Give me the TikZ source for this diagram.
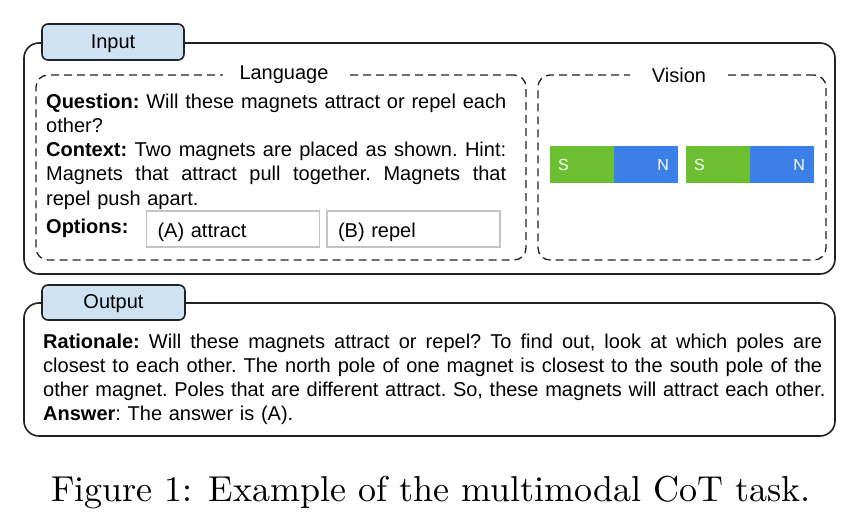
\documentclass[tikz,border=0pt]{standalone}
\usepackage{fontspec}
\setsansfont{Liberation Sans}
\newfontfamily\capfont{lmroman10-regular}[Extension=.otf]
\definecolor{tabblue}{HTML}{CFE2F3}
\definecolor{boxline}{HTML}{222222}
\definecolor{optgray}{HTML}{C4C4C4}
\definecolor{magS}{HTML}{6BBF30}
\definecolor{magN}{HTML}{3B80E8}
\newcommand\jline[1]{\leavevmode\hbox to\linewidth{\spaceskip=0.278em plus 1fil\relax #1}}
\begin{document}
\begin{tikzpicture}[x=1pt,y=-1pt,
  every node/.style={font=\sffamily\fontsize{20}{24.3}\selectfont},
  outerbox/.style={draw=boxline, line width=1.6pt, rounded corners=15pt, inner sep=0pt},
  tabbox/.style={draw=boxline, fill=tabblue, line width=1.6pt, rounded corners=6pt, inner sep=0pt, minimum height=36pt, text height=15pt, text depth=2.4pt},
  dashbox/.style={draw=boxline, line width=1.3pt, dash pattern=on 8pt off 5pt, rounded corners=12pt, inner sep=0pt, minimum height=185pt},
  dashlabel/.style={fill=white, inner xsep=17pt, inner ysep=0pt},
  optbox/.style={draw=optgray, line width=1.5pt, inner xsep=11pt, inner ysep=0pt, minimum height=36pt, text width=151pt, align=left, text height=16pt, text depth=0pt},
  maghalf/.style={inner sep=0pt, minimum width=64pt, minimum height=37pt},
  maglabel/.style={text=white, inner sep=0pt, font=\sffamily\fontsize{16}{16}\selectfont},
  bodytext/.style={inner sep=0pt, align=left, anchor=base west, execute at begin node=\frenchspacing}
]
\useasboundingbox (0,0) rectangle (863,512);
\fill[white] (0,0) rectangle (863,512);

% Input box
\node[outerbox, minimum width=811pt, minimum height=231pt] (inbox) at (429.5,158.5) {};
\node[tabbox, minimum width=142pt] (intab) at (113,42) {Input};

% Language box
\node[dashbox, minimum width=490pt] (langbox) at (281,167.5) {};
\node[dashlabel] (langlbl) at (284,75) {Language};
\node[bodytext, text width=460pt] (langtext) at (46,108) {%
\jline{\textbf{Question:} Will these magnets attract or repel each}\\
other?\\
\jline{\textbf{Context:} Two magnets are placed as shown. Hint:}\\
\jline{Magnets that attract pull together. Magnets that}\\
repel push apart.};
\node[bodytext] (optlbl) at (46,233) {\textbf{Options:}};
\node[optbox] (optA) at (233,229) {(A) attract};
\node[optbox] (optB) at (413.5,229) {(B) repel};

% Vision box
\node[dashbox, minimum width=288pt] (visbox) at (682,167.5) {};
\node[dashlabel, inner xsep=22pt] (vislbl) at (679,75) {Vision};
\node[maghalf, fill=magS] (s1) at (582,164.5) {};
\node[maghalf, fill=magN] (n1) at (646,164.5) {};
\node[maghalf, fill=magS] (s2) at (718,164.5) {};
\node[maghalf, fill=magN] (n2) at (782,164.5) {};
\node[maglabel, anchor=west] (s1l) at ([xshift=8pt]s1.west) {S};
\node[maglabel, anchor=east] (n1l) at ([xshift=-9pt]n1.east) {N};
\node[maglabel, anchor=west] (s2l) at ([xshift=8pt]s2.west) {S};
\node[maglabel, anchor=east] (n2l) at ([xshift=-9pt]n2.east) {N};

% Output box
\node[outerbox, minimum width=811pt, minimum height=133pt] (outbox) at (429.5,369.5) {};
\node[tabbox, minimum width=143pt, minimum height=35pt] (outtab) at (113.5,302.5) {Output};
\node[bodytext, text width=779pt] (outtext) at (43,348) {%
\jline{\textbf{Rationale:} Will these magnets attract or repel? To find out, look at which poles are}\\
\jline{closest to each other. The north pole of one magnet is closest to the south pole of the}\\
\mbox{other magnet. Poles that are different attract. So, these magnets will attract each other.}\\
\textbf{Answer}: The answer is (A).};

% Caption
\node[anchor=base, inner sep=0pt, font=\capfont\fontsize{36}{40}\selectfont] (caption) at (431,501) {Figure 1: Example of the multimodal CoT task.};
\end{tikzpicture}
\end{document}
